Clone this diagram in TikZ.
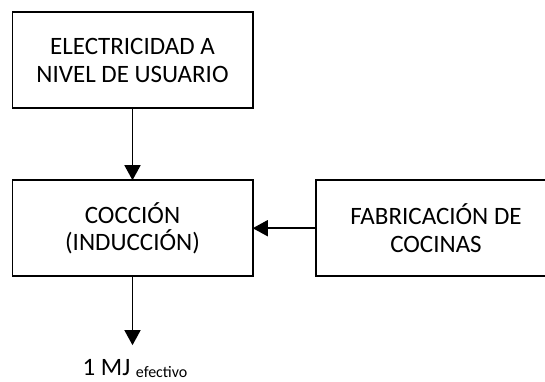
\documentclass[tikz,border=0pt]{standalone}
\usepackage{fontspec}
\setmainfont{Carlito}
\usetikzlibrary{arrows.meta,positioning}

\begin{document}
\begin{tikzpicture}[x=1pt,y=-1pt,>={Triangle[length=15pt,width=16pt]},
                    line width=1.5pt,node distance=72pt,
                    stage node/.style={rectangle,draw,outer sep=0pt,minimum width=240.5pt,
                      minimum height=96pt,align=center,
                      font=\fontsize{25}{27.7}\selectfont}]
  \useasboundingbox (0,0) rectangle (545,381);
  \clip (0,0) rectangle (545,381);

  \node[stage node] (elec) at (132.5,60.2) {ELECTRICIDAD A\\NIVEL DE USUARIO};
  \node[stage node] (cocc) [below=of elec] {COCCIÓN\\(INDUCCIÓN)};
  \node[stage node] (fab) [right=63pt of cocc] {FABRICACIÓN DE\\COCINAS};
  \node[anchor=base,inner sep=0pt,font=\fontsize{25}{27.7}\selectfont] (mj) at (135,375)
    {1 MJ \raisebox{-2pt}{\fontsize{16}{16}\selectfont efectivo}};

  \draw[->] (elec) -- (cocc);
  \draw[->] (fab) -- (cocc);
  \draw[->] (cocc.south) -- ([yshift=13pt]cocc.south |- mj.north);
\end{tikzpicture}
\end{document}
